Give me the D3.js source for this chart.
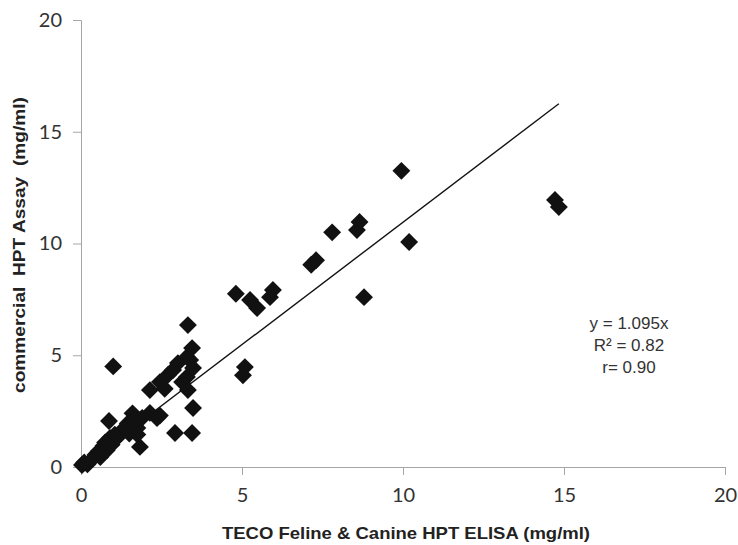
<!DOCTYPE html>
<html>
<head>
<meta charset="utf-8">
<script src="https://cdn.jsdelivr.net/npm/d3@7"></script>
<style>
  body { margin: 0; background: #fff; }
  svg { display: block; }
</style>
</head>
<body>
<div id="chart"></div>
<script>
// TECO ELISA (x) vs commercial assay (y), mg/ml
var elisaX = [0.03, 0.1, 0.2, 0.35, 0.45, 0.55, 0.6, 0.7, 0.75, 0.8, 0.87, 0.9, 0.95, 1.0, 1.05, 1.15,
  1.25, 1.35, 1.45, 1.5, 1.6, 1.65, 1.75, 1.75, 1.83, 1.9, 2.14, 2.14, 2.36, 2.45, 2.45, 2.6, 2.7,
  2.86, 2.92, 3.01, 3.14, 3.29, 3.29, 3.32, 3.32, 3.39, 3.45, 3.48, 3.48, 3.45, 4.81, 5.03, 5.09,
  5.25, 5.47, 5.87, 5.96, 7.15, 7.3, 7.8, 8.57, 8.65, 8.79, 9.95, 10.19, 14.72, 14.84];
var assayY = [0.09, 0.2, 0.12, 0.35, 0.55, 0.7, 0.45, 0.95, 1.1, 0.75, 2.06, 1.3, 1.0, 4.5, 1.45, 1.35,
  1.55, 1.75, 1.95, 1.5, 2.4, 2.1, 1.75, 1.45, 0.9, 2.2, 3.44, 2.42, 2.19, 2.3, 3.8, 3.5, 4.12,
  4.34, 1.52, 4.65, 3.8, 4.03, 4.92, 6.35, 3.44, 4.79, 5.32, 4.43, 2.64, 1.52, 7.75, 4.1, 4.47,
  7.47, 7.11, 7.6, 7.92, 9.05, 9.25, 10.5, 10.6, 10.96, 7.6, 13.25, 10.07, 11.95, 11.63];
var ticks = [0, 5, 10, 15, 20];
var slope = 1.095;
var fitLabels = ["y = 1.095x", "R\u00b2 = 0.82", "r= 0.90"];

var width = 738, height = 545;
var m = {left: 81, right: 13, top: 20, bottom: 78};

var svg = d3.select("#chart").append("svg")
  .attr("width", width)
  .attr("height", height);

var x = d3.scaleLinear().domain([0, 20]).range([m.left, width - m.right]);
var y = d3.scaleLinear().domain([0, 20]).range([height - m.bottom, m.top]);

var axisColor = "#a6a6a6";

// axes
var gx = svg.append("g")
  .attr("transform", "translate(0," + y(0) + ")")
  .call(d3.axisBottom(x).tickValues(ticks).tickSize(8).tickPadding(13).tickFormat(d3.format("d")));
var gy = svg.append("g")
  .attr("transform", "translate(" + x(0) + ",0)")
  .call(d3.axisLeft(y).tickValues(ticks).tickSize(8).tickPadding(11).tickFormat(d3.format("d")));

[gx, gy].forEach(function(g) {
  g.select(".domain").attr("stroke", axisColor);
  g.selectAll(".tick line").attr("stroke", axisColor);
  g.selectAll(".tick text")
    .attr("fill", "#333")
    .style("font-family", "Lato, 'Open Sans', sans-serif")
    .style("font-size", "20px");
});

// trend line through origin, up to largest x
var xMax = d3.max(elisaX);
svg.append("line")
  .attr("x1", x(0)).attr("y1", y(0))
  .attr("x2", x(xMax)).attr("y2", y(slope * xMax))
  .attr("stroke", "#111")
  .attr("stroke-width", 1.4);

// diamonds
var diamond = d3.symbol().type(d3.symbolSquare).size(160);
svg.append("g").selectAll("path")
  .data(d3.range(elisaX.length))
  .enter().append("path")
  .attr("d", diamond)
  .attr("transform", function(i) {
    return "translate(" + x(elisaX[i]) + "," + y(assayY[i]) + ") rotate(45)";
  })
  .attr("fill", "#111");

// fit annotation
svg.append("g").selectAll("text")
  .data(fitLabels)
  .enter().append("text")
  .attr("x", 629)
  .attr("y", function(d, i) { return 329 + i * 22; })
  .attr("text-anchor", "middle")
  .attr("fill", "#333")
  .style("font-family", "'Liberation Sans', Arial, sans-serif")
  .style("font-size", "17px")
  .text(function(d) { return d; });

// axis titles
svg.append("text")
  .attr("x", 406)
  .attr("y", 539)
  .attr("text-anchor", "middle")
  .attr("fill", "#222")
  .attr("textLength", 368)
  .attr("lengthAdjust", "spacingAndGlyphs")
  .style("font-family", "'Liberation Sans', Arial, sans-serif")
  .style("font-weight", "bold")
  .style("font-size", "17px")
  .text("TECO Feline & Canine HPT ELISA (mg/ml)");

svg.append("text")
  .attr("transform", "translate(25,245) rotate(-90)")
  .attr("text-anchor", "middle")
  .attr("fill", "#222")
  .attr("textLength", 296)
  .attr("lengthAdjust", "spacingAndGlyphs")
  .style("font-family", "'Liberation Sans', Arial, sans-serif")
  .style("font-weight", "bold")
  .style("font-size", "16px")
  .style("white-space", "pre")
  .text("commercial  HPT Assay  (mg/ml)");
</script>
</body>
</html>
